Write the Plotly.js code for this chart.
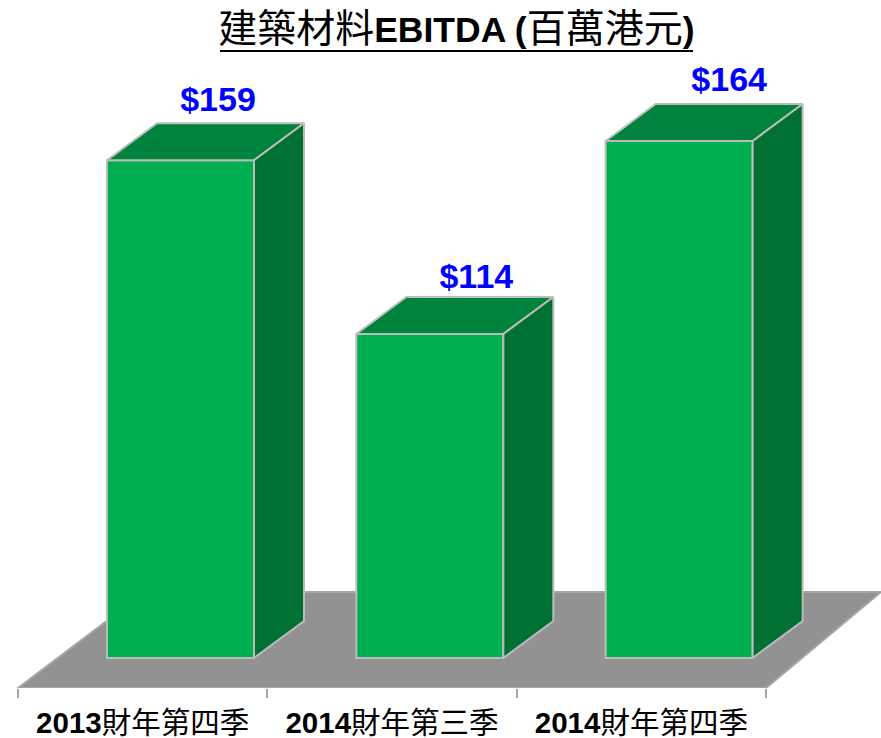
<!DOCTYPE html>
<html><head><meta charset="utf-8">
<script src="https://cdn.plot.ly/plotly-3.0.1.min.js"></script>
<style>html,body{margin:0;padding:0;background:#fff}#c{width:881px;height:738px}</style></head>
<body><div id="c"></div>
<script>
var categories = ["<b>2013</b>財年第四季", "<b>2014</b>財年第三季", "<b>2014</b>財年第四季"];
var values = [159, 114, 164];
var labels = ["$159", "$114", "$164"];

var BASE = 30, PXX = 249.33, PXY = 3.858;
var shiftX = 37.8 / PXX, barW = 147 / PXX, depthX = 50 / PXX, depthY = 37 / PXY;
var labelDX = [37.5, 46.5, 50];
var labelDY = [21, 17, 22];
var idx = values.map(function (_, i) { return i; });
var fontFam = '"Liberation Sans", "Noto Sans CJK TC", Arial, sans-serif';

var topX = [], topY = [], sideX = [], sideY = [];
values.forEach(function (v, i) {
  var l = i + shiftX - barW / 2, r = i + shiftX + barW / 2;
  topX.push(l, r, r + depthX, l + depthX, l, null);
  topY.push(v, v, v + depthY, v + depthY, v, null);
  sideX.push(r, r, r + depthX, r + depthX, r, null);
  sideY.push(BASE, v, v + depthY, BASE + depthY, BASE, null);
});
var edge = "#bcbcbc";
var x0 = -142.7 / PXX, x1 = (881 - 142.7) / PXX;
var y0 = BASE - 30 / PXY, y1 = BASE + 658 / PXY;
var floorBackY = y0 + 96 / PXY;

var traces = [
  { type: "bar", x: idx.map(function (i) { return i + shiftX; }), y: values.map(function (v) { return v - BASE; }),
    base: BASE, width: barW, marker: { color: "#00b050", line: { color: edge, width: 2 } }, hoverinfo: "skip" },
  { type: "scatter", mode: "lines", x: topX, y: topY, fill: "toself", fillcolor: "#00843d",
    line: { color: edge, width: 2 }, hoverinfo: "skip" },
  { type: "scatter", mode: "lines", x: sideX, y: sideY, fill: "toself", fillcolor: "#007033",
    line: { color: edge, width: 2 }, hoverinfo: "skip" },
  { type: "scatter", mode: "text", x: idx.map(function (i) { return i + shiftX + labelDX[i] / PXX; }),
    y: values.map(function (v, i) { return v + depthY + labelDY[i] / PXY; }),
    text: labels, textposition: "middle center", cliponaxis: false,
    textfont: { family: '"Liberation Sans", Arial, sans-serif', size: 34, color: "#0000ff", weight: "bold" }, hoverinfo: "skip" },
  { type: "scatter", mode: "markers", xaxis: "x2", yaxis: "y", x: [0.5], y: [y0], marker: { opacity: 0, size: 1 }, hoverinfo: "skip" }
];

var layout = {
  width: 881, height: 738, autosize: false, showlegend: false,
  margin: { l: 0, r: 0, t: 0, b: 50, pad: 0 },
  paper_bgcolor: "#fff", plot_bgcolor: "#fff",
  title: { text: '<span style="font-size:39px">建築材料</span><b>EBITDA (</b><span style="font-size:39px">百萬港元</span><b>)</b>',
    x: 0.518, xanchor: "center", xref: "paper", y: 0.96, yanchor: "middle", yref: "container",
    font: { family: fontFam, size: 35.5, color: "#000" } },
  xaxis: { range: [x0, x1], tickmode: "array", tickvals: idx, ticktext: categories, ticks: "", showgrid: false, zeroline: false,
    showline: false, fixedrange: true, ticklabelstandoff: 14,
    tickfont: { family: fontFam, size: 29.5, color: "#000" }, domain: [0, 1] },
  xaxis2: { range: [x0, x1], overlaying: "x", side: "bottom", anchor: "y", tickmode: "array", tickvals: [-0.5, 0.5, 1.5, 2.5],
    ticktext: ["", "", "", ""], ticks: "outside", ticklen: 9, tickwidth: 2, tickcolor: "#a6a6a6", showgrid: false, zeroline: false,
    showline: false, fixedrange: true },
  yaxis: { range: [y0, y1], visible: false, fixedrange: true },
  shapes: [
    { type: "path", layer: "below", xref: "x", yref: "y",
      path: "M -0.5 " + y0 + " L 2.5 " + y0 + " L " + (2.5 + 115 / PXX) + " " + floorBackY + " L " + (-0.5 + 127 / PXX) + " " + floorBackY + " Z",
      fillcolor: "#929292", line: { color: "#a6a6a6", width: 2 } },
    { type: "line", xref: "paper", yref: "paper", x0: 220 / 881, x1: 693 / 881, y0: (688 - 51) / 688, y1: (688 - 51) / 688,
      line: { color: "#000", width: 2 } }
  ]
};
Plotly.newPlot("c", traces, layout, { displayModeBar: false, staticPlot: true });
</script></body></html>
